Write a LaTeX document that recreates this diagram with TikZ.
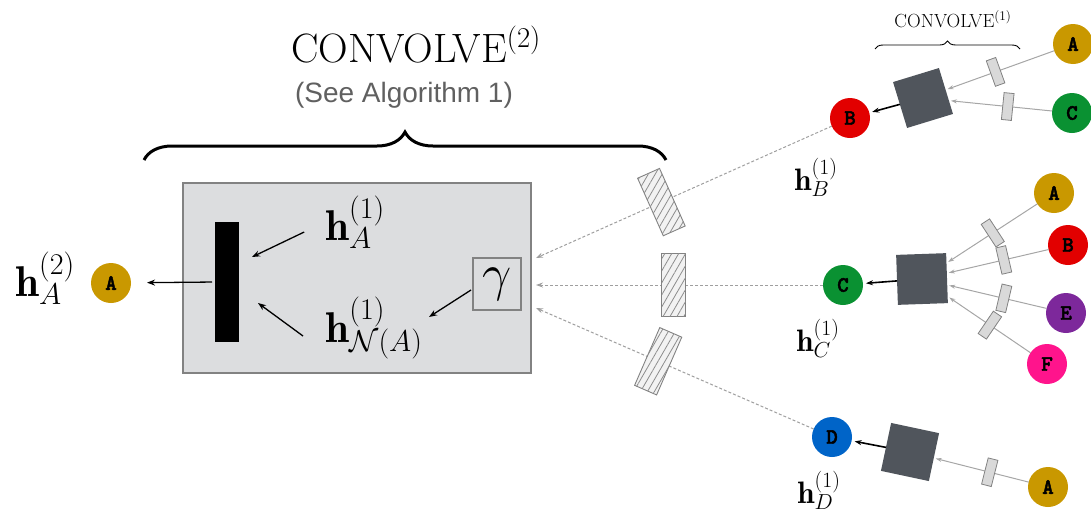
\documentclass[tikz,border=0pt]{standalone}
\usepackage{fix-cm}
\usepackage{fontspec}
\usetikzlibrary{arrows.meta,decorations.pathreplacing,patterns.meta}
\newfontfamily\algfont{Liberation Sans}
\newfontfamily\nodefont{lmmonolt10-bold.otf}[FakeBold=2]
\definecolor{cA}{RGB}{201,152,0}
\definecolor{cB}{RGB}{226,0,0}
\definecolor{cC}{RGB}{10,145,50}
\definecolor{cD}{RGB}{0,100,200}
\definecolor{cE}{RGB}{125,40,155}
\definecolor{cF}{RGB}{255,20,140}
\definecolor{sqgray}{RGB}{80,85,92}
\definecolor{boxgray}{RGB}{220,221,223}
\definecolor{edgegray}{RGB}{130,130,130}
\begin{document}
\begin{tikzpicture}[x=1pt,y=-1pt,
  every node/.style={inner sep=0pt, outer sep=0pt},
  vtx/.style={circle, minimum size=40pt, font=\nodefont\fontsize{22}{22}\selectfont},
  sqbox/.style={fill=sqgray, minimum size=48pt},
  hatchbox/.style={solid, draw=edgegray, line width=0.9pt, fill=gray!10, minimum width=24pt, minimum height=63pt,
     postaction={pattern={Lines[angle=60,distance=6pt,line width=0.8pt]}, pattern color=gray!90}},
  smallbox/.style={solid, draw=edgegray, line width=0.8pt, fill=gray!30, minimum width=10pt, minimum height=27pt},
  dashtwo/.style={draw=gray!75, densely dashed, line width=1pt, -{Stealth[length=7pt,width=5pt]}},
  inone/.style={draw=gray!70, line width=1pt, -{Stealth[length=6pt,width=4pt]}, shorten >=2pt},
  outone/.style={draw=black, line width=1.6pt, -{Stealth[length=7pt,width=5pt]}, shorten >=3pt},
  blk/.style={draw=black, line width=1.3pt, -{Stealth[length=8pt,width=6pt]}},
  bighl/.style={font=\fontsize{43}{45}\selectfont},
  smallhl/.style={font=\fontsize{31}{33}\selectfont}
]
\useasboundingbox (0,0) rectangle (1091,517);

% ---------- top labels ----------
\draw[line width=3pt, decorate, decoration={brace, amplitude=28pt}] (144,160) -- (666,160);
\node (conv2) at (416,45) {\fontsize{41}{43}\selectfont CONVOLVE$^{(2)}$};
\node[text=gray!75!black] (alg) at (404,95) {\algfont\fontsize{28}{30}\selectfont (See Algorithm 1)};

\draw[line width=0.9pt, decorate, decoration={brace, amplitude=8pt}] (875,49) -- (1020,49);
\node (conv1) at (953,19) {\fontsize{19}{20}\selectfont CONVOLVE$^{(1)}$};

% ---------- left box ----------
\node[draw=edgegray, fill=boxgray, line width=1.2pt, minimum width=348pt, minimum height=190pt] (box) at (357,278) {};
\node[fill=black, minimum width=24pt, minimum height=120pt] (bar) at (227,282) {};
\node[bighl] (hA1) at (355,222) {$\mathbf{h}^{(1)}_{A}$};
\node[bighl] (hN) at (374,328) {$\mathbf{h}^{(1)}_{\mathcal{N}(A)}$};
\node[draw=edgegray, line width=1.2pt, minimum width=48pt, minimum height=52pt] (gam) at (497,284) {\fontsize{52}{52}\selectfont$\gamma$};

\draw[blk] ([shift={(-21,10)}]hA1.west) -- ([shift={(13,-25)}]bar.east);
\draw[blk] ([shift={(64,54)}]bar.east) -- ([shift={(19,21)}]bar.east);
\draw[blk] ([shift={(-2,6)}]gam.west) -- ([shift={(-44,33)}]gam.west);

\node[vtx, fill=cA] (A0) at (111,283) {A};
\node[bighl] (hA2) at (45,278) {$\mathbf{h}^{(2)}_{A}$};
\draw[blk, shorten <=3pt, shorten >=16pt] (bar.west) -- (A0);

% ---------- level-1 nodes ----------
\node[vtx, fill=cB] (nB) at (850,118) {B};
\node[vtx, fill=cC] (nC) at (843,285) {C};
\node[vtx, fill=cD] (nD) at (832,437) {D};
\node[smallhl] (hB) at (816,177) {$\mathbf{h}^{(1)}_{B}$};
\node[smallhl] (hC) at (818,338) {$\mathbf{h}^{(1)}_{C}$};
\node[smallhl] (hD) at (819,490) {$\mathbf{h}^{(1)}_{D}$};

\coordinate (e1) at (536,258);
\coordinate (e2) at (536,285);
\coordinate (e3) at (536,308);
\draw[dashtwo] (nB) -- node[hatchbox, sloped, pos=0.576] (hb1) {} (e1);
\draw[dashtwo] (nC) -- node[hatchbox, sloped, pos=0.52] (hb2) {} (e2);
\draw[dashtwo] (nD) -- node[hatchbox, sloped, pos=0.56] (hb3) {} (e3);

% ---------- top cluster ----------
\node[sqbox, rotate=17] (sqB) at (923,98) {};
\node[vtx, fill=cA] (tA) at (1073,44) {A};
\node[vtx, fill=cC] (tC) at (1072,113) {C};
\draw[inone] (tA) -- node[smallbox, sloped, pos=0.54] (s1) {} (sqB);
\draw[inone] (tC) -- node[smallbox, sloped, pos=0.43] (s2) {} (sqB);
\draw[outone] (sqB) -- (nB);

% ---------- middle cluster ----------
\node[sqbox, minimum size=50pt, rotate=2] (sqC) at (922,279) {};
\node[vtx, fill=cA] (mA) at (1054,193) {A};
\node[vtx, fill=cB] (mB) at (1068,245) {B};
\node[vtx, fill=cE] (mE) at (1066,313) {E};
\node[vtx, fill=cF] (mF) at (1047,364) {F};
\draw[inone] (mA) -- node[smallbox, sloped, pos=0.49] (s3) {} (sqC);
\draw[inone] (mB) -- node[smallbox, sloped, pos=0.44] (s4) {} (sqC);
\draw[inone] (mE) -- node[smallbox, sloped, pos=0.43] (s5) {} (sqC);
\draw[inone] (mF) -- node[smallbox, sloped, pos=0.49] (s6) {} (sqC);
\draw[outone] (sqC) -- (nC);

% ---------- bottom cluster ----------
\node[sqbox, minimum size=49pt, rotate=-12] (sqD) at (910,452) {};
\node[vtx, fill=cA] (bA) at (1048,487) {A};
\draw[inone] (bA) -- node[smallbox, sloped, pos=0.41] (s7) {} (sqD);
\draw[outone] (sqD) -- (nD);
\end{tikzpicture}
\end{document}
